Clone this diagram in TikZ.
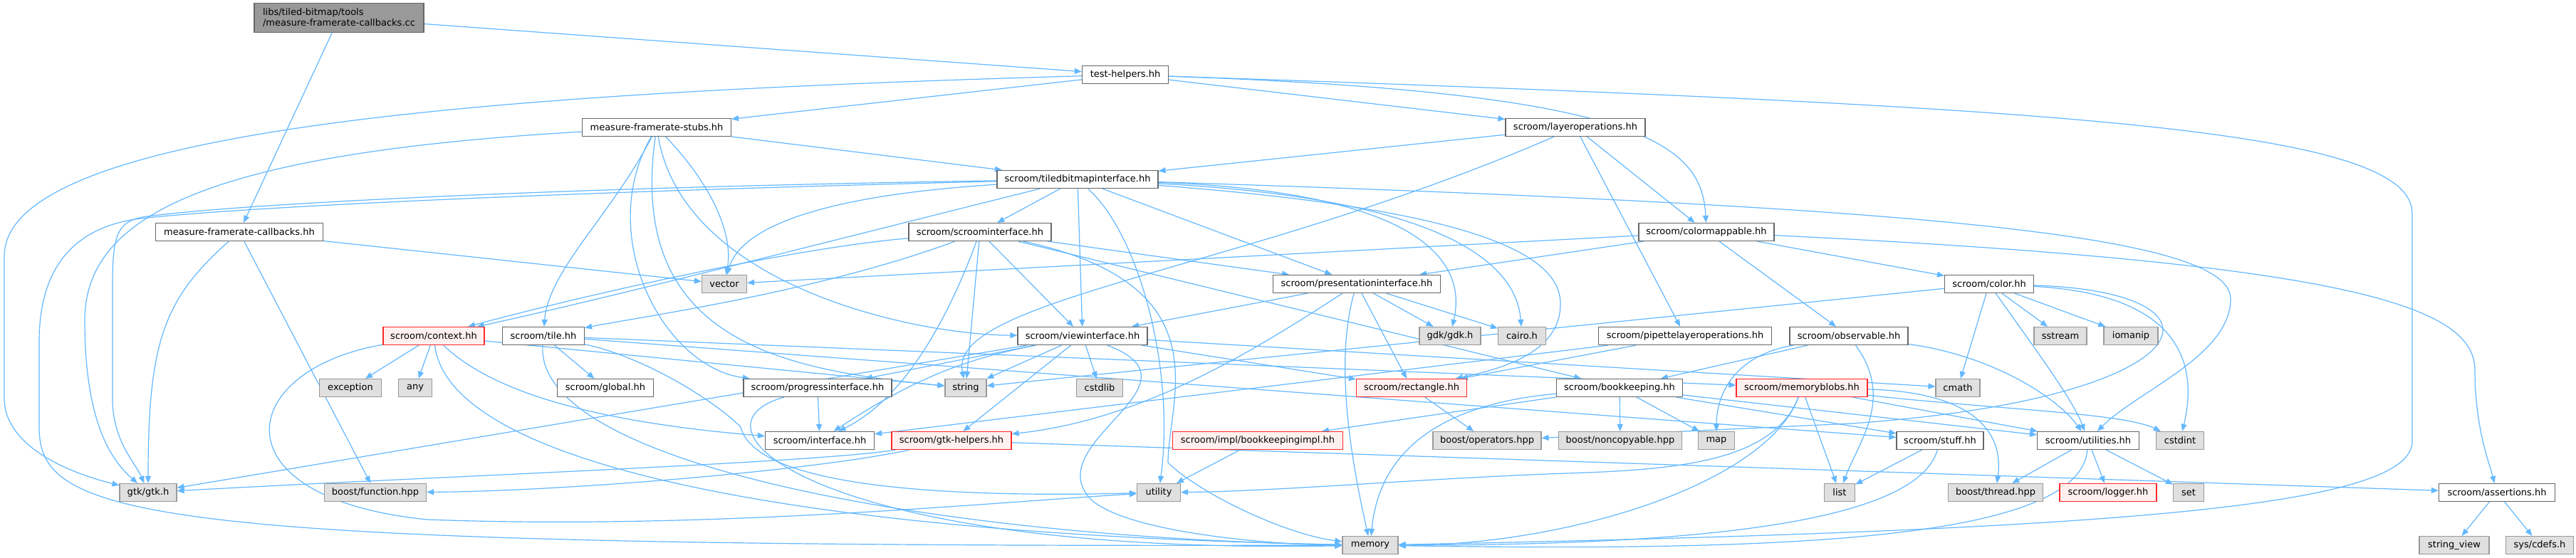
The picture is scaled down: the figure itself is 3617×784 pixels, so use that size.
\documentclass[tikz,border=0pt]{standalone}
\usepackage{fontspec}
\setmainfont{DejaVu Sans}
\usetikzlibrary{arrows.meta}
\definecolor{edgec}{RGB}{99,184,255}
\definecolor{bordc}{RGB}{102,102,102}
\definecolor{sysfill}{RGB}{224,224,224}
\definecolor{sysbord}{RGB}{153,153,153}
\definecolor{trfill}{RGB}{255,240,240}
\definecolor{trbord}{RGB}{255,40,40}
\definecolor{rootfill}{RGB}{153,153,153}
\pgfdeclarelayer{edgelayer}
\pgfsetlayers{edgelayer,main}
\begin{document}
\begin{tikzpicture}[x=1pt,y=-1pt,
 box/.style={draw=bordc, fill=white, line width=1.2pt, minimum height=25pt, inner sep=0pt, font=\fontsize{13}{15}\selectfont},
 sys/.style={box, draw=sysbord, fill=sysfill},
 trunc/.style={box, draw=trbord, fill=trfill},
 root/.style={box, fill=rootfill},
 dep/.style={draw=edgec, line width=1.2pt, line join=round, -{Triangle[length=10pt,width=8pt]}},
]
\useasboundingbox (0,0) rectangle (3617,784);
% ---------------- nodes
\node[root, minimum width=238pt, minimum height=41pt, align=left] (cc) at (476,25) {libs/tiled-bitmap/tools\\/measure-framerate-callbacks.cc};
\node[box, minimum width=235pt] (cbh) at (336,326) {measure-framerate-callbacks.hh};
\node[box, minimum width=121pt] (th) at (1580,105) {test-helpers.hh};
\node[box, minimum width=209pt] (stubs) at (922,179) {measure-framerate-stubs.hh};
\node[box, minimum width=196pt] (layer) at (2212,179) {scroom/layeroperations.hh};
\node[box, minimum width=226pt] (tbi) at (1513,252) {scroom/tiledbitmapinterface.hh};
\node[box, minimum width=200pt] (si) at (1376,326) {scroom/scroominterface.hh};
\node[box, minimum width=190pt] (cm) at (2396,326) {scroom/colormappable.hh};
\node[sys, minimum width=63pt] (vector) at (1017,399) {vector};
\node[box, minimum width=235pt] (pi) at (1905,399) {scroom/presentationinterface.hh};
\node[box, minimum width=125pt] (color) at (2793,399) {scroom/color.hh};
\node[trunc, minimum width=142pt] (context) at (609,472) {scroom/context.hh};
\node[box, minimum width=115pt] (tile) at (763,472) {scroom/tile.hh};
\node[box, minimum width=182pt] (vi) at (1520,472) {scroom/viewinterface.hh};
\node[sys, minimum width=86pt] (gdk) at (2036,472) {gdk/gdk.h};
\node[sys, minimum width=67pt] (cairo) at (2137,472) {cairo.h};
\node[box, minimum width=243pt] (pipette) at (2366,472) {scroom/pipettelayeroperations.hh};
\node[box, minimum width=166pt] (obs) at (2596,472) {scroom/observable.hh};
\node[sys, minimum width=74pt] (sstream) at (2893,472) {sstream};
\node[sys, minimum width=76pt] (iomanip) at (2992,472) {iomanip};
\node[sys, minimum width=87pt] (exception) at (492,545) {exception};
\node[sys, minimum width=47pt] (any) at (583,545) {any};
\node[box, minimum width=135pt] (global) at (850,545) {scroom/global.hh};
\node[box, minimum width=208pt] (progress) at (1148,545) {scroom/progressinterface.hh};
\node[sys, minimum width=58pt] (string) at (1356,545) {string};
\node[sys, minimum width=65pt] (cstdlib) at (1544,545) {cstdlib};
\node[trunc, minimum width=155pt] (rect) at (1982,545) {scroom/rectangle.hh};
\node[box, minimum width=177pt] (bk) at (2274,545) {scroom/bookkeeping.hh};
\node[trunc, minimum width=184pt] (mb) at (2530,545) {scroom/memoryblobs.hh};
\node[sys, minimum width=62pt] (cmath) at (2749,545) {cmath};
\node[box, minimum width=153pt] (iface) at (1151,619) {scroom/interface.hh};
\node[trunc, minimum width=168pt] (gtkh) at (1336,619) {scroom/gtk-helpers.hh};
\node[trunc, minimum width=239pt] (bki) at (1766,619) {scroom/impl/bookkeepingimpl.hh};
\node[sys, minimum width=152pt] (ops) at (2088,619) {boost/operators.hpp};
\node[sys, minimum width=173pt] (nc) at (2275,619) {boost/noncopyable.hpp};
\node[sys, minimum width=51pt] (map) at (2410,619) {map};
\node[box, minimum width=122pt] (stuff) at (2724,619) {scroom/stuff.hh};
\node[box, minimum width=143pt] (util) at (2932,619) {scroom/utilities.hh};
\node[sys, minimum width=67pt] (cstdint) at (3061,619) {cstdint};
\node[sys, minimum width=80pt] (gtk) at (208,692) {gtk/gtk.h};
\node[sys, minimum width=143pt] (bf) at (527,692) {boost/function.hpp};
\node[sys, minimum width=61pt] (utility) at (1627,692) {utility};
\node[sys, minimum width=43pt] (list) at (2583,692) {list};
\node[sys, minimum width=133pt] (bt) at (2802,692) {boost/thread.hpp};
\node[trunc, minimum width=136pt] (logger) at (2960,692) {scroom/logger.hh};
\node[sys, minimum width=43pt] (set) at (3073,692) {set};
\node[box, minimum width=163pt] (assert) at (3506,692) {scroom/assertions.hh};
\node[sys, minimum width=78pt] (memory) at (1924,766) {memory};
\node[sys, minimum width=98pt] (sv) at (3446,766) {string\_view};
\node[sys, minimum width=95pt] (cdefs) at (3566,766) {sys/cdefs.h};
% ---------------- edges
\begin{pgfonlayer}{edgelayer}
\fill[white] (0,0) rectangle (3617,784);
% cc
\draw[dep] (cc) -- (cbh);
\draw[dep] (cc) -- (th);
% callbacks.hh
\draw[dep] (cbh) .. controls (230,420) and (208,480) .. (gtk);
\draw[dep] (cbh) -- (bf);
\draw[dep] (cbh) -- (vector);
% test-helpers
\draw[dep] (th) -- (stubs);
\draw[dep] (th) -- (layer);
\draw[dep] (th) .. controls (2300,130) and (2390,200) .. (cm);
\draw[dep] (th) .. controls (700,130) and (6,180) .. (6,360) -- (6,560) .. controls (6,620) and (80,660) .. (gtk);
\draw[dep] (th) .. controls (2900,150) and (3387,180) .. (3387,300) -- (3387,620) .. controls (3387,710) and (3000,745) .. (memory);
% stubs
\draw[dep] (stubs) -- (tbi);
\draw[dep] (stubs) .. controls (300,215) and (119,300) .. (119,450) .. controls (119,600) and (160,650) .. (gtk);
\draw[dep] (stubs) .. controls (1000,260) and (1030,330) .. (vector);
\draw[dep] (stubs) .. controls (860,300) and (770,380) .. (tile);
\draw[dep] (stubs) .. controls (835,330) and (930,515) .. (progress);
\draw[dep] (stubs) .. controls (880,480) and (1100,520) .. (string);
\draw[dep] (stubs) .. controls (960,400) and (1280,470) .. (vi);
% layeroperations
\draw[dep] (layer) -- (tbi);
\draw[dep] (layer) -- (cm);
\draw[dep] (layer) -- (pipette);
\draw[dep] (layer) .. controls (1750,380) and (1330,420) .. (string);
% tiledbitmapinterface
\draw[dep] (tbi) -- (si);
\draw[dep] (tbi) -- (vi);
\draw[dep] (tbi) -- (pi);
\draw[dep] (tbi) .. controls (1150,275) and (1040,320) .. (vector);
\draw[dep] (tbi) .. controls (2000,270) and (2060,370) .. (gdk);
\draw[dep] (tbi) .. controls (2050,280) and (2130,380) .. (cairo);
\draw[dep] (tbi) .. controls (2150,300) and (2200,380) .. (2190,440) .. controls (2180,500) and (2100,520) .. (rect);
\draw[dep] (tbi) .. controls (1200,330) and (850,420) .. (context);
\draw[dep] (tbi) .. controls (700,265) and (300,290) .. (200,305) .. controls (165,312) and (158,330) .. (158,400) -- (158,560) .. controls (158,620) and (190,650) .. (gtk);
\draw[dep] (tbi) .. controls (700,272) and (300,294) .. (190,308) .. controls (100,322) and (55,380) .. (55,480) -- (55,600) .. controls (55,730) and (200,770) .. (memory);
\draw[dep] (tbi) .. controls (1600,330) and (1650,520) .. (utility);
\draw[dep] (tbi) .. controls (2700,290) and (3132,330) .. (3132,420) .. controls (3132,500) and (3000,550) .. (util);
% scroominterface
\draw[dep] (si) -- (pi);
\draw[dep] (si) -- (vi);
\draw[dep] (si) .. controls (1100,350) and (800,420) .. (context);
\draw[dep] (si) .. controls (1150,410) and (900,445) .. (tile);
\draw[dep] (si) -- (string);
\draw[dep] (si) .. controls (1330,450) and (1270,560) .. (iface);
\draw[dep] (si) .. controls (1720,400) and (1640,560) .. (1640,650) .. controls (1680,690) and (1800,750) .. (memory);
\draw[dep] (si) -- (bk);
% colormappable
\draw[dep] (cm) -- (vector);
\draw[dep] (cm) -- (pi);
\draw[dep] (cm) -- (obs);
\draw[dep] (cm) -- (color);
\draw[dep] (cm) .. controls (3300,370) and (3475,430) .. (3475,520) .. controls (3475,600) and (3495,650) .. (assert);
% color
\draw[dep] (color) -- (string);
\draw[dep] (color) -- (cmath);
\draw[dep] (color) .. controls (2850,480) and (2910,560) .. (util);
\draw[dep] (color) -- (sstream);
\draw[dep] (color) -- (iomanip);
\draw[dep] (color) .. controls (3150,410) and (3100,560) .. (2600,595) -- (ops);
\draw[dep] (color) .. controls (3090,415) and (3080,540) .. (cstdint);
% presentationinterface
\draw[dep] (pi) -- (gdk);
\draw[dep] (pi) -- (cairo);
\draw[dep] (pi) -- (rect);
\draw[dep] (pi) -- (vi);
\draw[dep] (pi) .. controls (1750,500) and (1600,590) .. (gtkh);
\draw[dep] (pi) .. controls (1870,520) and (1905,680) .. (memory);
% context
\draw[dep] (context) -- (exception);
\draw[dep] (context) -- (any);
\draw[dep] (context) .. controls (680,540) and (800,590) .. (iface);
\draw[dep] (context) .. controls (630,650) and (1100,750) .. (memory);
\draw[dep] (context) -- (string);
\draw[dep] (context) .. controls (330,520) and (300,700) .. (600,730) .. controls (1000,745) and (1400,705) .. (utility);
% tile
\draw[dep] (tile) -- (global);
\draw[dep] (tile) .. controls (750,650) and (1300,755) .. (memory);
\draw[dep] (tile) .. controls (900,500) and (1000,560) .. (1040,600) .. controls (1060,680) and (1300,700) .. (utility);
\draw[dep] (tile) -- (mb);
\draw[dep] (tile) -- (stuff);
% progressinterface
\draw[dep] (progress) -- (iface);
\draw[dep] (progress) .. controls (950,600) and (1150,780) .. (memory);
% viewinterface
\draw[dep] (vi) -- (string);
\draw[dep] (vi) -- (cstdlib);
\draw[dep] (vi) -- (gtkh);
\draw[dep] (vi) .. controls (1380,500) and (1300,520) .. (iface);
\draw[dep] (vi) -- (progress);
\draw[dep] (vi) .. controls (1700,540) and (1460,620) .. (1530,700) .. controls (1580,750) and (1800,766) .. (memory);
\draw[dep] (vi) -- (gtk);
\draw[dep] (vi) -- (rect);
\draw[dep] (vi) -- (cmath);
% pipette
\draw[dep] (pipette) -- (rect);
\draw[dep] (pipette) -- (iface);
% observable
\draw[dep] (obs) -- (bk);
\draw[dep] (obs) .. controls (2430,500) and (2410,560) .. (map);
\draw[dep] (obs) .. controls (2660,560) and (2610,620) .. (list);
\draw[dep] (obs) .. controls (2800,500) and (2890,560) .. (util);
% bookkeeping
\draw[dep] (bk) -- (nc);
\draw[dep] (bk) -- (map);
\draw[dep] (bk) -- (bki);
\draw[dep] (bk) .. controls (2000,570) and (1935,650) .. (memory);
\draw[dep] (bk) -- (util);
\draw[dep] (bk) -- (stuff);
% rectangle
\draw[dep] (rect) -- (ops);
% memoryblobs
\draw[dep] (mb) -- (list);
\draw[dep] (mb) .. controls (2760,550) and (2815,600) .. (bt);
\draw[dep] (mb) -- (util);
\draw[dep] (mb) .. controls (2480,680) and (2200,766) .. (memory);
\draw[dep] (mb) .. controls (2490,650) and (2350,660) .. (2200,665) .. controls (2000,672) and (1800,690) .. (utility);
\draw[dep] (mb) .. controls (2800,575) and (2980,580) .. (cstdint);
% stuff
\draw[dep] (stuff) -- (list);
\draw[dep] (stuff) .. controls (2690,740) and (2350,766) .. (memory);
% utilities
\draw[dep] (util) -- (bt);
\draw[dep] (util) -- (logger);
\draw[dep] (util) -- (set);
\draw[dep] (util) .. controls (2920,760) and (2500,775) .. (memory);
% gtk-helpers
\draw[dep] (gtkh) .. controls (1150,650) and (600,670) .. (gtk);
\draw[dep] (gtkh) .. controls (1150,660) and (800,690) .. (bf);
\draw[dep] (gtkh) -- (assert);
% bookkeepingimpl
\draw[dep] (bki) -- (utility);
% assertions
\draw[dep] (assert) -- (sv);
\draw[dep] (assert) -- (cdefs);
\end{pgfonlayer}
\end{tikzpicture}
\end{document}
